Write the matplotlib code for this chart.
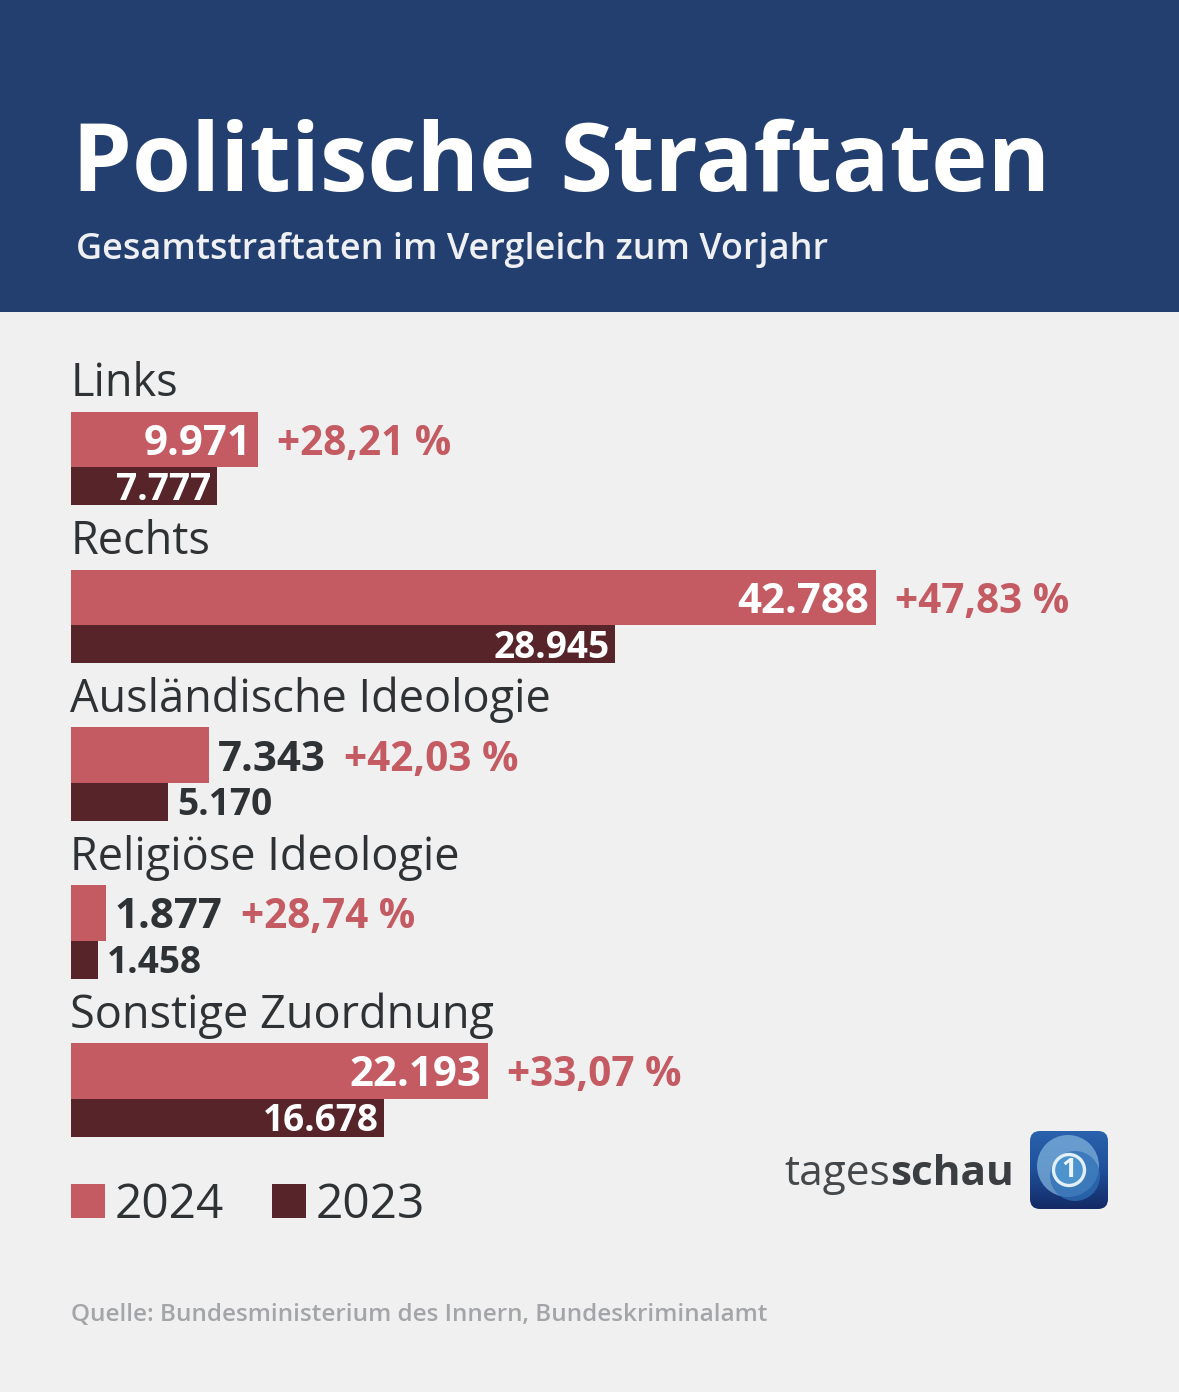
import numpy as np
import matplotlib
matplotlib.use('Agg')
from matplotlib import pyplot
from matplotlib.patches import FancyBboxPatch, Rectangle, Circle

# Data
categories = ['Links', 'Rechts', 'Ausländische Ideologie', 'Religiöse Ideologie', 'Sonstige Zuordnung']
values_2024 = [9971, 42788, 7343, 1877, 22193]
values_2023 = [7777, 28945, 5170, 1458, 16678]
labels_2024 = ['9.971', '42.788', '7.343', '1.877', '22.193']
labels_2023 = ['7.777', '28.945', '5.170', '1.458', '16.678']
changes = ['+28,21 %', '+47,83 %', '+42,03 %', '+28,74 %', '+33,07 %']
legend_years = ['2024', '2023']

# Colours
BLUE = '#233f6f'
BG = '#f0f0f1'
RED = '#c45a62'
DARK = '#57242a'
INK = '#2f3234'
GREY = '#a3a5a8'

W, H = 1179, 1392
FONT = 'Open Sans'
px = 0.72  # font size in points for one pixel at dpi 100

fig = pyplot.figure(figsize=(W / 100, H / 100), dpi=100, facecolor=BG)

# Overlay in picture pixels, for the header, legend and logo
bg = fig.add_axes([0, 0, 1, 1])
bg.set_xlim(0, W)
bg.set_ylim(H, 0)
bg.axis('off')

bg.add_patch(Rectangle((0, 0), W, 312, color=BLUE, lw=0))
bg.text(72, 191, 'Politische Straftaten', color='white', fontsize=95.5 * px,
        fontweight='bold', family=FONT, va='baseline')
bg.text(76, 259, 'Gesamtstraftaten im Vergleich zum Vorjahr', color='#eef0f4',
        fontsize=36 * px, fontweight='semibold', family=FONT, va='baseline')

# Bars: x is the case count, y counts rows (one row = 157.75 px)
x0 = 70.5
px_per_case = 805.5 / 42788
row_px = 157.75
top_px = 412
ax = fig.add_axes([x0 / W, 0, 1 - x0 / W, 1])
ax.set_xlim(0, (W - x0) / px_per_case)
ax.set_ylim((H - top_px) / row_px, -top_px / row_px)
ax.axis('off')
ax.patch.set_alpha(0)

h_2024 = 55.5 / row_px
h_2023 = 38 / row_px
rows = np.arange(len(categories))
ax.barh(rows, values_2024, height=h_2024, align='edge', color=RED, lw=0)
ax.barh(rows + h_2024, values_2023, height=h_2023, align='edge', color=DARK, lw=0)


def note(x, y, dx, dy, s, size, color, ha='left', weight='bold'):
    ax.annotate(s, (x, y), xytext=(dx * px, dy * px), textcoords='offset points',
                fontsize=size * px, color=color, ha=ha, va='center_baseline',
                fontweight=weight, family=FONT)


for i, name in enumerate(categories):
    note(0, i, 0, 33, name, 45.2, INK, weight='normal')

    # Numbers sit inside long bars and beside short ones
    inside = values_2024[i] > 9000
    y1 = i + h_2024 / 2
    y2 = i + h_2024 + h_2023 / 2
    if inside:
        note(values_2024[i], y1, -7, 0, labels_2024[i], 42, 'white', ha='right')
        note(values_2023[i], y2, -6, 1, labels_2023[i], 37, 'white', ha='right')
        end = 19
    else:
        note(values_2024[i], y1, 9, 0, labels_2024[i], 42, INK)
        note(values_2023[i], y2, 9, 1, labels_2023[i], 37, INK)
        end = 10 + 106 + 19
    note(values_2024[i], y1, end, 0, changes[i], 40.5, RED)

# Legend
for x_box, x_txt, col, year in zip([70.5, 272], [115, 316], [RED, DARK], legend_years):
    bg.add_patch(Rectangle((x_box, 1184), 34, 34, color=col, lw=0))
    bg.text(x_txt, 1218, year, fontsize=47.7 * px, color=INK, family=FONT, va='baseline')

bg.text(71, 1321, 'Quelle: Bundesministerium des Innern, Bundeskriminalamt', color=GREY,
        fontsize=24.2 * px, fontweight='semibold', family=FONT, va='baseline')

# tagesschau wordmark
wm = bg.text(784, 1185, 'tages', fontsize=42.4 * px, color='#45484b', family=FONT, va='baseline')
fig.canvas.draw()
wm_end = wm.get_window_extent().x1
bg.text(wm_end, 1185, 'schau', fontsize=42.4 * px, color='#3b3e41', fontweight='bold',
        family=FONT, va='baseline')

# Logo: rounded square with a blue gradient and a globe
box = FancyBboxPatch((1036, 1137), 66, 66, boxstyle='round,pad=6,rounding_size=10', lw=0, fc='none')
bg.add_patch(box)
grad = np.linspace(0, 1, 80).reshape(-1, 1)
cmap = matplotlib.colors.LinearSegmentedColormap.from_list('logo', ['#2a62ad', '#1f4f9a', '#142a66'])
im = bg.imshow(grad, extent=(1030, 1108, 1209, 1131), cmap=cmap, aspect='auto', zorder=2)
im.set_clip_path(box)
bg.set_xlim(0, W)
bg.set_ylim(H, 0)
bg.add_patch(Circle((1068, 1166), 31, fc='#7fb2dc', ec='none', alpha=0.75, zorder=3))
bg.add_patch(Circle((1075, 1176), 25, fc='#2f70b6', ec='none', alpha=0.75, zorder=3))
bg.add_patch(Circle((1069, 1170), 15.5, fc='#4d93cd', ec='#e2eff8', lw=2.4, zorder=4))
bg.text(1069, 1170, '1', color='#eaf4fb', fontsize=27 * px, fontweight='bold', family=FONT,
        ha='center', va='center', zorder=5)

pyplot.savefig('out.png', dpi=100, facecolor=BG)
